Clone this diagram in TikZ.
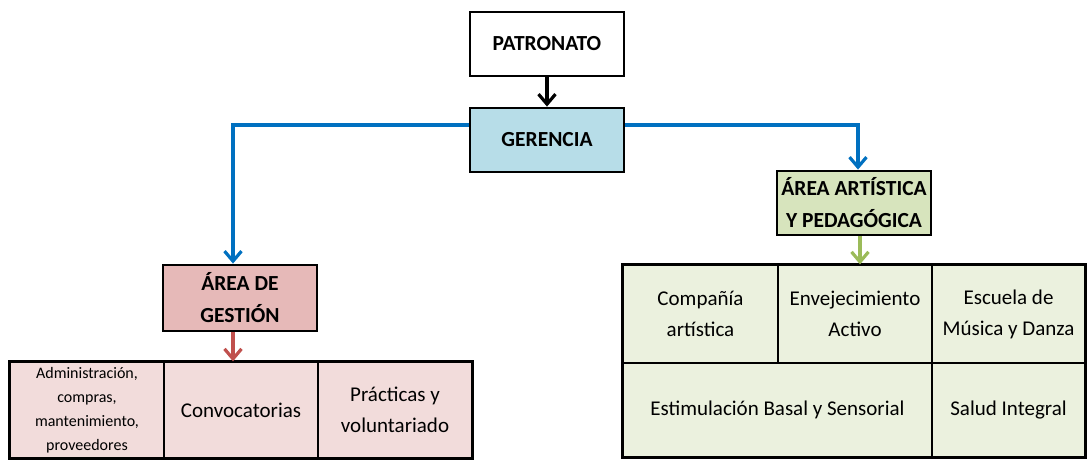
\documentclass[tikz,border=0pt]{standalone}
\usepackage{fontspec}
\setmainfont{Carlito}
\usetikzlibrary{arrows.meta,calc}
\definecolor{bluel}{HTML}{0070C0}
\definecolor{redl}{HTML}{C0504D}
\definecolor{greenl}{HTML}{9BBB59}
\definecolor{gerfill}{HTML}{B7DDE8}
\definecolor{gesfill}{HTML}{E6B9B8}
\definecolor{gescell}{HTML}{F2DCDB}
\definecolor{artfill}{HTML}{D7E4BD}
\definecolor{artcell}{HTML}{EBF1DE}
\tikzset{
  head/.style={draw=black, line width=2.8pt, minimum width=154pt, minimum height=64pt,
    inner sep=0pt, align=center, font=\fontsize{21.5}{32}\selectfont\bfseries},
  cell/.style={draw=black, line width=1.3pt, inner sep=0pt, align=center,
    font=\fontsize{21}{31}\selectfont},
  conn/.style={line width=3.4pt, -{Straight Barb[length=10pt,width=17pt,line width=3.2pt]}},
  frame/.style={draw=black, line width=2.6pt}
}
\begin{document}
\begin{tikzpicture}[x=1pt,y=-1pt]
\useasboundingbox (0,0) rectangle (1089,462);
% headers
\node[head, fill=white] (pat) at (547,44) {PATRONATO};
\node[head, fill=gerfill] (ger) at (547,140) {GERENCIA};
\node[head, fill=gesfill, minimum height=66pt] (ges) at (240,298) {ÁREA DE\\GESTIÓN};
\node[head, fill=artfill] (art) at (854,203) {ÁREA ARTÍSTICA\\Y PEDAGÓGICA};
% left table
\node[cell, fill=gescell, minimum width=154pt, minimum height=96pt,
  font=\fontsize{16}{24}\selectfont] (g1) at (87,410) {Administración,\\compras,\\mantenimiento,\\proveedores};
\node[cell, fill=gescell, minimum width=154pt, minimum height=96pt] (g2) at (241,410) {Convocatorias};
\node[cell, fill=gescell, minimum width=154pt, minimum height=96pt] (g3) at (395,410) {Prácticas y\\voluntariado};
\draw[frame] (g1.north west) rectangle (g3.south east);
% right table
\node[cell, fill=artcell, minimum width=155pt, minimum height=98pt] (a1) at (700.5,314) {Compañía\\artística};
\node[cell, fill=artcell, minimum width=154pt, minimum height=98pt] (a2) at (855,314) {Envejecimiento\\Activo};
\node[cell, fill=artcell, minimum width=153pt, minimum height=98pt] (a3) at (1008.5,314) {Escuela de\\Música y Danza};
\node[cell, fill=artcell, minimum width=309pt, minimum height=94pt] (a4) at (777.5,410) {Estimulación Basal y Sensorial};
\node[cell, fill=artcell, minimum width=153pt, minimum height=94pt] (a5) at (1008.5,410) {Salud Integral};
\draw[frame] (a1.north west) rectangle (a5.south east);
% connectors
\draw[conn, black] (pat.south) -- (ger.north);
\draw[conn, bluel] ([yshift=15pt]ger.west) -| ([xshift=-7pt]ges.north);
\draw[conn, bluel] ([yshift=15pt]ger.east) -| ([xshift=4pt]art.north);
\draw[conn, redl] ([xshift=-7pt]ges.south) -- ([xshift=-7pt]ges.south |- g2.north);
\draw[conn, greenl] ([xshift=6pt]art.south) -- ([xshift=6pt]art.south |- a2.north);
\end{tikzpicture}
\end{document}
